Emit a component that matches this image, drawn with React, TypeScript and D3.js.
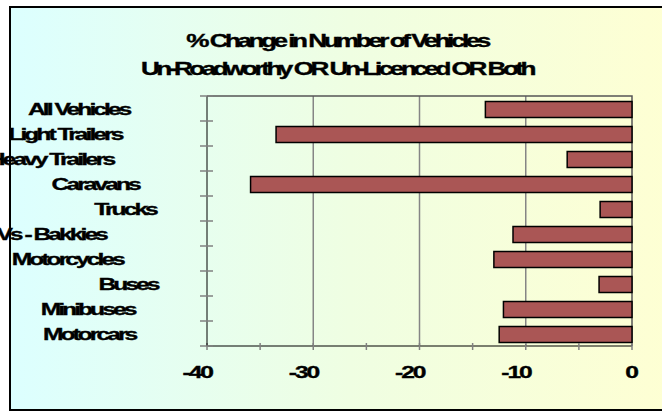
import React, { useEffect, useRef } from "react";
import * as d3 from "d3";

// categories top to bottom, as in the chart
const categories = [
  "All Vehicles",
  "Light Trailers",
  "Heavy Trailers",
  "Caravans",
  "Trucks",
  "LDVs - Bakkies",
  "Motorcycles",
  "Buses",
  "Minibuses",
  "Motorcars"
];
const changes = [-13.8, -33.5, -6.1, -35.9, -3.0, -11.2, -13.0, -3.1, -12.1, -12.5];
const xTicks = [-40, -30, -20, -10, 0];
const xMinorTicks = [-35, -25, -15, -5];
const titleLines = [
  "% Change in Number of Vehicles",
  "Un-Roadworthy OR Un-Licenced OR Both"
];

const W = 662;
const H = 412;
const plot = { left: 207, right: 632, top: 96, bottom: 346 };
const FONT = "'Liberation Sans', Arial, sans-serif";
// the original renders its text wide and squeezed together
const STRETCH = 1.45;

const draw = (node: SVGSVGElement) => {
  const svg = d3.select(node);
  svg.selectAll("*").remove();

  const defs = svg.append("defs");
  const grad = defs
    .append("linearGradient")
    .attr("id", "bg")
    .attr("x1", "0")
    .attr("x2", "1")
    .attr("y1", "0")
    .attr("y2", "0");
  grad.append("stop").attr("offset", "0").attr("stop-color", "#dcffff");
  grad.append("stop").attr("offset", "0.5").attr("stop-color", "#effee2");
  grad.append("stop").attr("offset", "1").attr("stop-color", "#ffffd2");

  // chart area with border (right edge runs off the page)
  svg
    .append("rect")
    .attr("x", 10)
    .attr("y", 7)
    .attr("width", 680)
    .attr("height", 403)
    .attr("fill", "url(#bg)")
    .attr("stroke", "#000")
    .attr("stroke-width", 2);

  const x = d3.scaleLinear().domain([-40, 0]).range([plot.left, plot.right]);
  const y = d3
    .scaleBand()
    .domain(categories)
    .range([plot.top, plot.bottom])
    .paddingInner(0.36)
    .paddingOuter(0.18);
  const band = (plot.bottom - plot.top) / categories.length;

  const squeezed = (
    parent: d3.Selection<any, any, any, any>,
    text: string,
    size: number,
    spacing: number
  ) =>
    parent
      .append("text")
      .attr("font-family", FONT)
      .attr("font-weight", "bold")
      .attr("font-size", size)
      .attr("letter-spacing", spacing)
      .attr("stroke", "#000")
      .attr("stroke-width", 0.35)
      .text(text);

  // title
  titleLines.forEach((t, i) => {
    const g = svg
      .append("g")
      .attr("transform", `translate(337,${47 + i * 28}) scale(${STRETCH},1)`);
    squeezed(g, t, 18, -2.4).attr("text-anchor", "middle");
  });

  // gridlines
  svg
    .append("g")
    .selectAll("line")
    .data(xTicks.slice(1, -1))
    .enter()
    .append("line")
    .attr("x1", d => x(d))
    .attr("x2", d => x(d))
    .attr("y1", plot.top)
    .attr("y2", plot.bottom)
    .attr("stroke", "#858585")
    .attr("stroke-width", 1.5);

  // plot area top and right edge
  svg
    .append("path")
    .attr("d", `M${plot.left},${plot.top}H${plot.right}V${plot.bottom}`)
    .attr("fill", "none")
    .attr("stroke", "#555")
    .attr("stroke-width", 1.5);

  // bars
  svg
    .append("g")
    .selectAll("rect")
    .data(categories)
    .enter()
    .append("rect")
    .attr("x", (_, i) => x(changes[i]))
    .attr("y", d => (y(d) as number) + 1)
    .attr("width", (_, i) => x(0) - x(changes[i]))
    .attr("height", y.bandwidth())
    .attr("fill", "#aa5655")
    .attr("stroke", "#000")
    .attr("stroke-width", 1.5);

  // x axis
  const ax = svg.append("g");
  ax.append("line")
    .attr("x1", plot.left)
    .attr("x2", plot.right)
    .attr("y1", plot.bottom)
    .attr("y2", plot.bottom)
    .attr("stroke", "#000");
  ax.selectAll("line.tick")
    .data([...xTicks, ...xMinorTicks])
    .enter()
    .append("line")
    .attr("class", "tick")
    .attr("x1", d => x(d))
    .attr("x2", d => x(d))
    .attr("y1", plot.bottom - 3)
    .attr("y2", plot.bottom + 4)
    .attr("stroke", "#808080")
    .attr("stroke-width", 1.5);
  xTicks.forEach(t => {
    const g = ax
      .append("g")
      .attr("transform", `translate(${x(t) + 5},378) scale(${STRETCH},1)`);
    squeezed(g, String(t), 17, -1.4).attr("text-anchor", "end");
  });

  // y axis
  const ay = svg.append("g");
  ay.append("line")
    .attr("x1", plot.left)
    .attr("x2", plot.left)
    .attr("y1", plot.top)
    .attr("y2", plot.bottom)
    .attr("stroke", "#000");
  ay.selectAll("line.tick")
    .data(d3.range(categories.length + 1))
    .enter()
    .append("line")
    .attr("class", "tick")
    .attr("x1", plot.left - 7)
    .attr("x2", plot.left + 6)
    .attr("y1", i => plot.top + i * band)
    .attr("y2", i => plot.top + i * band)
    .attr("stroke", "#808080")
    .attr("stroke-width", 1.5);

  categories.forEach(c => {
    const g = ay.append("g");
    const txt = squeezed(g, c, 17, -2.05);
    const w = (txt.node() as SVGTextElement).getComputedTextLength() * STRETCH;
    const left = 197 - (5 / 3) * w;
    const cy = (y(c) as number) + y.bandwidth() / 2;
    g.attr("transform", `translate(${left},${cy + 6}) scale(${STRETCH},1)`);
  });
};

const App = () => {
  const ref = useRef<SVGSVGElement>(null);
  useEffect(() => {
    if (ref.current) draw(ref.current);
  }, []);
  return (
    <svg
      ref={ref}
      width={W}
      height={H}
      style={{ position: "absolute", left: 0, top: 0 }}
    />
  );
};

export default App;
